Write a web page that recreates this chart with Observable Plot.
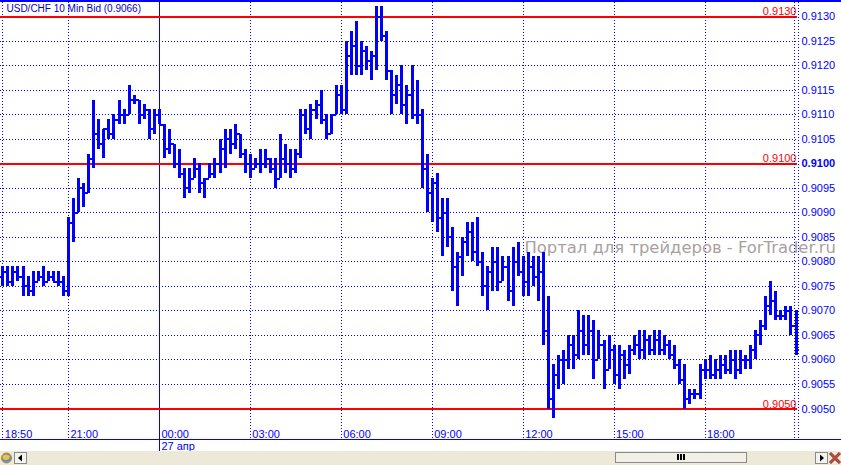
<!DOCTYPE html>
<html>
<head>
<meta charset="utf-8">
<script src="https://cdn.jsdelivr.net/npm/d3@7"></script>
<script src="https://cdn.jsdelivr.net/npm/@observablehq/plot@0.6"></script>
<style>
  html, body { margin: 0; padding: 0; background: #fff; }
  svg { display: block; }
</style>
</head>
<body>
<div id="chart"></div>
<script>
// USD/CHF, 10-minute bid bars
const symbolTitle = "USD/CHF 10 Min Bid (0.9066)";
const watermark = "Портал для трейдеров - ForTrader.ru";
const dayLabel = "27 апр";
const firstBar = Date.UTC(2010, 3, 26, 18, 50);
const barMinutes = 10;

const opens = [
  0.9077,0.9078,0.9076,0.9078,0.9077,0.9075,0.9074,0.9076,0.9077,0.9076,
  0.9077,0.9076,0.9076,0.9074,0.9088,0.9090,0.9095,0.9094,0.9101,0.9106,
  0.9104,0.9107,0.9106,0.9109,0.9110,0.9110,0.9113,0.9113,0.9110,0.9111,
  0.9107,0.9110,0.9108,0.9103,0.9104,0.9100,0.9098,0.9095,0.9097,0.9099,
  0.9096,0.9097,0.9098,0.9100,0.9103,0.9105,0.9104,0.9106,0.9102,0.9100,
  0.9099,0.9100,0.9100,0.9101,0.9099,0.9097,0.9101,0.9100,0.9099,0.9102,
  0.9110,0.9107,0.9111,0.9112,0.9109,0.9106,0.9110,0.9114,0.9111,0.9122,
  0.9124,0.9120,0.9123,0.9121,0.9122,0.9130,0.9126,0.9119,0.9114,0.9116,
  0.9112,0.9114,0.9110,0.9110,0.9099,0.9094,0.9096,0.9089,0.9090,0.9085,
  0.9079,0.9081,0.9084,0.9086,0.9082,0.9080,0.9075,0.9078,0.9080,0.9076,
  0.9079,0.9074,0.9080,0.9078,0.9076,0.9079,0.9077,0.9078,0.9066,0.9052,
  0.9057,0.9060,0.9060,0.9063,0.9061,0.9066,0.9063,0.9066,0.9060,0.9063,
  0.9058,0.9062,0.9057,0.9061,0.9059,0.9062,0.9063,0.9062,0.9064,0.9062,
  0.9064,0.9062,0.9063,0.9061,0.9059,0.9056,0.9052,0.9053,0.9053,0.9058,
  0.9058,0.9057,0.9058,0.9059,0.9058,0.9060,0.9058,0.9060,0.9060,0.9062,
  0.9065,0.9067,0.9071,0.9072,0.9069,0.9069,0.9070,0.9067
];
const highs = [
  0.9079,0.9079,0.9079,0.9079,0.9079,0.9077,0.9078,0.9078,0.9079,0.9078,
  0.9078,0.9078,0.9077,0.9089,0.9093,0.9097,0.9096,0.9102,0.9113,0.9109,
  0.9107,0.9109,0.9110,0.9113,0.9111,0.9116,0.9114,0.9113,0.9112,0.9111,
  0.9111,0.9111,0.9108,0.9107,0.9104,0.9103,0.9099,0.9099,0.9101,0.9100,
  0.9097,0.9100,0.9101,0.9105,0.9107,0.9107,0.9108,0.9106,0.9103,0.9102,
  0.9101,0.9103,0.9103,0.9101,0.9101,0.9106,0.9104,0.9103,0.9103,0.9111,
  0.9111,0.9112,0.9113,0.9115,0.9110,0.9110,0.9116,0.9116,0.9125,0.9127,
  0.9129,0.9125,0.9124,0.9123,0.9132,0.9132,0.9127,0.9119,0.9118,0.9120,
  0.9116,0.9120,0.9117,0.9111,0.9102,0.9097,0.9098,0.9093,0.9093,0.9087,
  0.9082,0.9085,0.9088,0.9088,0.9089,0.9082,0.9079,0.9083,0.9083,0.9081,
  0.9081,0.9083,0.9084,0.9081,0.9082,0.9081,0.9081,0.9082,0.9073,0.9059,
  0.9061,0.9062,0.9065,0.9065,0.9070,0.9069,0.9069,0.9068,0.9066,0.9064,
  0.9065,0.9063,0.9063,0.9062,0.9063,0.9065,0.9066,0.9066,0.9065,0.9066,
  0.9066,0.9065,0.9064,0.9063,0.9060,0.9059,0.9054,0.9054,0.9059,0.9060,
  0.9061,0.9060,0.9061,0.9061,0.9062,0.9062,0.9062,0.9061,0.9063,0.9066,
  0.9068,0.9073,0.9076,0.9074,0.9070,0.9071,0.9071,0.9070
];
const lows = [
  0.9075,0.9075,0.9075,0.9076,0.9073,0.9073,0.9073,0.9076,0.9075,0.9076,
  0.9076,0.9075,0.9073,0.9073,0.9084,0.9090,0.9091,0.9094,0.9099,0.9103,
  0.9101,0.9105,0.9105,0.9108,0.9108,0.9110,0.9112,0.9108,0.9109,0.9105,
  0.9106,0.9108,0.9101,0.9102,0.9099,0.9097,0.9093,0.9094,0.9097,0.9094,
  0.9093,0.9097,0.9097,0.9098,0.9099,0.9102,0.9103,0.9101,0.9098,0.9097,
  0.9099,0.9098,0.9099,0.9098,0.9095,0.9097,0.9098,0.9097,0.9098,0.9101,
  0.9106,0.9105,0.9109,0.9108,0.9105,0.9106,0.9110,0.9110,0.9110,0.9118,
  0.9118,0.9118,0.9119,0.9117,0.9119,0.9125,0.9117,0.9110,0.9112,0.9110,
  0.9108,0.9109,0.9108,0.9095,0.9090,0.9088,0.9086,0.9081,0.9083,0.9074,
  0.9071,0.9077,0.9081,0.9080,0.9079,0.9073,0.9070,0.9074,0.9074,0.9076,
  0.9072,0.9071,0.9077,0.9073,0.9073,0.9075,0.9072,0.9063,0.9050,0.9048,
  0.9054,0.9055,0.9058,0.9058,0.9060,0.9061,0.9061,0.9056,0.9060,0.9054,
  0.9058,0.9055,0.9054,0.9056,0.9057,0.9061,0.9060,0.9060,0.9061,0.9061,
  0.9061,0.9061,0.9060,0.9058,0.9055,0.9050,0.9051,0.9052,0.9052,0.9056,
  0.9056,0.9056,0.9056,0.9057,0.9057,0.9056,0.9057,0.9058,0.9058,0.9060,
  0.9063,0.9066,0.9069,0.9068,0.9068,0.9068,0.9065,0.9061
];
const closes = [
  0.9078,0.9076,0.9078,0.9077,0.9075,0.9074,0.9076,0.9077,0.9076,0.9077,
  0.9076,0.9076,0.9074,0.9088,0.9090,0.9095,0.9094,0.9101,0.9106,0.9104,
  0.9107,0.9106,0.9109,0.9110,0.9110,0.9113,0.9113,0.9110,0.9111,0.9107,
  0.9110,0.9108,0.9103,0.9104,0.9100,0.9098,0.9095,0.9097,0.9099,0.9096,
  0.9097,0.9098,0.9100,0.9103,0.9105,0.9104,0.9106,0.9102,0.9100,0.9099,
  0.9100,0.9100,0.9101,0.9099,0.9097,0.9101,0.9100,0.9099,0.9102,0.9110,
  0.9107,0.9111,0.9112,0.9109,0.9106,0.9110,0.9114,0.9111,0.9122,0.9124,
  0.9120,0.9123,0.9121,0.9122,0.9130,0.9126,0.9119,0.9114,0.9116,0.9112,
  0.9114,0.9110,0.9110,0.9099,0.9094,0.9096,0.9089,0.9090,0.9085,0.9079,
  0.9081,0.9084,0.9086,0.9082,0.9080,0.9075,0.9078,0.9080,0.9076,0.9079,
  0.9074,0.9080,0.9078,0.9076,0.9079,0.9077,0.9078,0.9066,0.9052,0.9057,
  0.9060,0.9060,0.9063,0.9061,0.9066,0.9063,0.9066,0.9060,0.9063,0.9058,
  0.9062,0.9057,0.9061,0.9059,0.9062,0.9063,0.9062,0.9064,0.9062,0.9064,
  0.9062,0.9063,0.9061,0.9059,0.9056,0.9052,0.9053,0.9053,0.9058,0.9058,
  0.9057,0.9058,0.9059,0.9058,0.9060,0.9058,0.9060,0.9060,0.9062,0.9065,
  0.9067,0.9071,0.9072,0.9069,0.9069,0.9070,0.9067,0.9062
];

// price grid every 5 pips, and the three marked levels
const priceTicks = [0.9050,0.9055,0.9060,0.9065,0.9070,0.9075,0.9080,0.9085,0.9090,
                    0.9095,0.9100,0.9105,0.9110,0.9115,0.9120,0.9125,0.9130];
const levelLines = [0.9130, 0.9100, 0.9050];
const boldLevel = 0.9100;

// time grid
const timeTicks = [
  Date.UTC(2010, 3, 26, 18, 50), Date.UTC(2010, 3, 26, 21, 0),
  Date.UTC(2010, 3, 27, 0, 0),   Date.UTC(2010, 3, 27, 3, 0),
  Date.UTC(2010, 3, 27, 6, 0),   Date.UTC(2010, 3, 27, 9, 0),
  Date.UTC(2010, 3, 27, 12, 0),  Date.UTC(2010, 3, 27, 15, 0),
  Date.UTC(2010, 3, 27, 18, 0)
].map(t => new Date(t));
const dayStart = new Date(Date.UTC(2010, 3, 27, 0, 0));
const fmtTime = d3.utcFormat("%H:%M");

const bars = opens.map((o, i) => ({
  time: new Date(firstBar + i * barMinutes * 60000),
  open: o, high: highs[i], low: lows[i], close: closes[i]
}));

const tickSpan = 6 * 60000; // open/close tick length in time units
const blue = "#0000ff";
const red = "#ff0000";

const W = 841, H = 465;
const chart = Plot.plot({
  width: W,
  height: H,
  marginTop: 2,
  marginLeft: 0,
  marginRight: 43,
  marginBottom: 26,
  x: {type: "utc", domain: [bars[0].time, bars[bars.length - 1].time], range: [2.3, 795.5], axis: null},
  y: {domain: [0.9050, 0.9130], range: [408.5, 16.2], axis: null},
  style: {fontFamily: "'Liberation Sans', Arial, sans-serif", fontSize: "11px", background: "#fff", overflow: "visible"},
  marks: [
    // dotted grid
    Plot.ruleY(priceTicks, {y: d => d, stroke: blue, strokeWidth: 1, strokeDasharray: "1,2", shapeRendering: "crispEdges"}),
    Plot.ruleX(timeTicks.filter(t => +t !== +dayStart), {x: d => d, stroke: blue, strokeWidth: 1, strokeDasharray: "1,2", shapeRendering: "crispEdges"}),
    // day separator
    Plot.ruleX([dayStart], {x: d => d, stroke: blue, strokeWidth: 1, insetBottom: -12, shapeRendering: "crispEdges"}),
    // marked levels
    Plot.ruleY(levelLines, {y: d => d, stroke: red, strokeWidth: 2, insetRight: 1, shapeRendering: "crispEdges"}),
    Plot.text(levelLines, {y: d => d, text: d => d.toFixed(4), frameAnchor: "right", textAnchor: "end", dx: -2, dy: -5, fill: red, fontSize: 11}),
    // watermark
    Plot.text([watermark], {frameAnchor: "top-left", dx: 524, dy: 239, textAnchor: "start", fill: "#a9a1a1", fontSize: 16.4, fontFamily: "'DejaVu Sans', sans-serif"}),
    // OHLC bars
    Plot.ruleX(bars, {x: "time", y1: "low", y2: "high", stroke: blue, strokeWidth: 3, shapeRendering: "crispEdges"}),
    Plot.ruleY(bars, {y: "open", x1: d => new Date(+d.time - tickSpan), x2: "time", stroke: blue, strokeWidth: 2, shapeRendering: "crispEdges"}),
    Plot.ruleY(bars, {y: "close", x1: "time", x2: d => new Date(+d.time + tickSpan), stroke: blue, strokeWidth: 2, shapeRendering: "crispEdges"}),
    // right price scale
    Plot.text(priceTicks.filter(p => p !== boldLevel), {y: d => d, text: d => d.toFixed(4), frameAnchor: "right", textAnchor: "start", dx: 3, fill: blue, fontSize: 11}),
    Plot.text([boldLevel], {y: d => d, text: d => d.toFixed(4), frameAnchor: "right", textAnchor: "start", dx: 3, fill: blue, fontSize: 11, fontWeight: "bold"}),
    // time scale
    Plot.text(timeTicks, {x: d => d, text: d => fmtTime(d), frameAnchor: "bottom", textAnchor: "start", lineAnchor: "bottom", dx: 2, dy: -2, fill: blue, fontSize: 11}),
    Plot.text([dayStart], {x: d => d, text: [dayLabel], frameAnchor: "bottom", textAnchor: "start", lineAnchor: "bottom", dx: 2, dy: 10, fill: blue, fontSize: 11}),
    // symbol caption
    Plot.text([symbolTitle], {frameAnchor: "top-left", textAnchor: "start", lineAnchor: "top", dx: 6, dy: 2, fill: "#0000d0", fontSize: 10})
  ]
});

// window chrome: borders, right-edge lines and the scrollbar strip
const svg = d3.select(chart);
svg.append("rect").attr("x", 0).attr("y", 0).attr("width", W).attr("height", 2).attr("fill", blue);
svg.append("rect").attr("x", 0).attr("y", 439).attr("width", W).attr("height", 1).attr("fill", blue);
[794.5, 798.5].forEach(x => {
  svg.append("line").attr("x1", x).attr("x2", x).attr("y1", 2).attr("y2", 439)
    .attr("stroke", blue).attr("stroke-dasharray", "1,2").attr("shape-rendering", "crispEdges");
});

const bar = svg.append("g");
bar.append("rect").attr("x", 0).attr("y", 451).attr("width", W).attr("height", 14).attr("fill", "#ece9d8");
// globe icon
bar.append("circle").attr("cx", 6.5).attr("cy", 458).attr("r", 5).attr("fill", "#5a8fd8").attr("stroke", "#c08a20");
bar.append("path").attr("d", "M2.5,456 Q6,453 10,456 L9,459 Q6,461 3,459 Z").attr("fill", "#f2c230");
// left button
bar.append("rect").attr("x", 14.5).attr("y", 452.5).attr("width", 12).attr("height", 11).attr("fill", "#f4f3ee").attr("stroke", "#8a8a8a");
bar.append("path").attr("d", "M18,458 L22,454.5 L22,461.5 Z").attr("fill", "#000");
// thumb
bar.append("rect").attr("x", 615.5).attr("y", 452.5).attr("width", 131).attr("height", 10).attr("fill", "#f1efe6").attr("stroke", "#8a8a8a");
[677, 680, 683].forEach(x => bar.append("rect").attr("x", x).attr("y", 454).attr("width", 2).attr("height", 6).attr("fill", "#000"));
// right button
bar.append("rect").attr("x", 815.5).attr("y", 452.5).attr("width", 12).attr("height", 11).attr("fill", "#f4f3ee").attr("stroke", "#8a8a8a");
bar.append("path").attr("d", "M824,458 L820,454.5 L820,461.5 Z").attr("fill", "#000");
// close icon
bar.append("path").attr("d", "M830,453 L840,463 M840,453 L830,463").attr("stroke", "#7a3b30").attr("stroke-width", 3);
bar.append("path").attr("d", "M830,453 L840,463 M840,453 L830,463").attr("stroke", "#d84a3a").attr("stroke-width", 1.4);

document.getElementById("chart").appendChild(chart);
</script>
</body>
</html>
